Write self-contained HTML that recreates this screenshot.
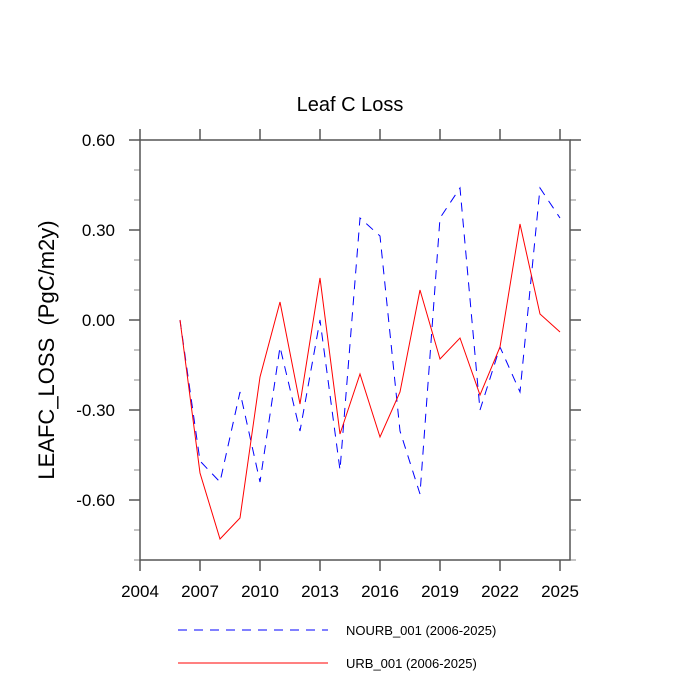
<!DOCTYPE html>
<html><head><meta charset="utf-8"><style>body{margin:0;background:#fff}svg{display:block;font-family:"Liberation Sans",sans-serif}</style></head>
<body>
<svg id="c" width="700" height="700">
<text x="350" y="111" font-size="20" text-anchor="middle">Leaf C Loss</text>
<text transform="translate(54,350) rotate(-90)" font-size="22" text-anchor="middle" style="white-space:pre">LEAFC_LOSS  (PgC/m2y)</text>
<g id="ax"></g><g id="series"></g>
<line x1="178" y1="630" x2="328" y2="630" stroke="#00f" stroke-dasharray="9,7"/>
<text x="346" y="635" font-size="13">NOURB_001 (2006-2025)</text>
<line x1="178" y1="663" x2="328" y2="663" stroke="#f00"/>
<text x="346" y="668" font-size="13">URB_001 (2006-2025)</text>
</svg>
<script>
const years=[2006,2007,2008,2009,2010,2011,2012,2013,2014,2015,2016,2017,2018,2019,2020,2021,2022,2023,2024,2025];
const nourb=[0,-0.47,-0.54,-0.24,-0.54,-0.09,-0.37,0.0,-0.50,0.34,0.28,-0.37,-0.58,0.34,0.44,-0.30,-0.09,-0.24,0.44,0.34];
const urb=[0,-0.51,-0.73,-0.66,-0.19,0.06,-0.28,0.14,-0.38,-0.18,-0.39,-0.24,0.10,-0.13,-0.06,-0.25,-0.09,0.32,0.02,-0.04];
const xTicks=[2004,2007,2010,2013,2016,2019,2022,2025];
const yTicks=[0.6,0.3,0,-0.3,-0.6];
const yLabels=["0.60","0.30","0.00","-0.30","-0.60"];
const L=140,R=570,T=140,B=560,x0=2004,x1=2025.5,y0=-0.8,y1=0.6;
const X=v=>L+(v-x0)/(x1-x0)*(R-L), Y=v=>B-(v-y0)/(y1-y0)*(B-T);
const NS="http://www.w3.org/2000/svg";
const AC='#555';
function mk(t,a,p){const e=document.createElementNS(NS,t);for(const k in a)e.setAttribute(k,a[k]);p.appendChild(e);return e;}
const ax=document.getElementById('ax');
for(let v=-0.8;v<=0.6001;v+=0.1){const y=Y(v);const maj=yTicks.some(t=>Math.abs(t-v)<1e-6);const l=maj?11:6;
 mk('line',{x1:L-l,x2:L,y1:y,y2:y,stroke:maj?AC:'#888','stroke-width':maj?1.5:1},ax);mk('line',{x1:R,x2:R+l,y1:y,y2:y,stroke:maj?AC:'#888','stroke-width':maj?1.5:1},ax);}
xTicks.forEach(v=>{const x=X(v);
 mk('line',{x1:x,x2:x,y1:B,y2:B+11,stroke:AC,'stroke-width':1.5},ax);mk('line',{x1:x,x2:x,y1:T-11,y2:T,stroke:AC,'stroke-width':1.5},ax);});
const fr=mk('rect',{x:L,y:T,width:R-L,height:B-T,fill:'none',stroke:AC,'stroke-width':1.5},ax);


yTicks.forEach((v,i)=>{const t=mk('text',{x:L-25,y:Y(v)+6,'font-size':17,'text-anchor':'end'},ax);t.textContent=yLabels[i];
 
 });
xTicks.forEach(v=>{const t=mk('text',{x:X(v),y:B+37,'font-size':17,'text-anchor':'middle'},ax);t.textContent=v;
 
 });
const s=document.getElementById('series');
const pts=a=>a.map((v,i)=>X(years[i])+','+Y(v)).join(' ');
const p1=mk('polyline',{points:pts(nourb),fill:'none',stroke:'#00f','stroke-dasharray':'9,7'},s);


const p2=mk('polyline',{points:pts(urb),fill:'none',stroke:'#f00'},s);


</script>
</body></html>
